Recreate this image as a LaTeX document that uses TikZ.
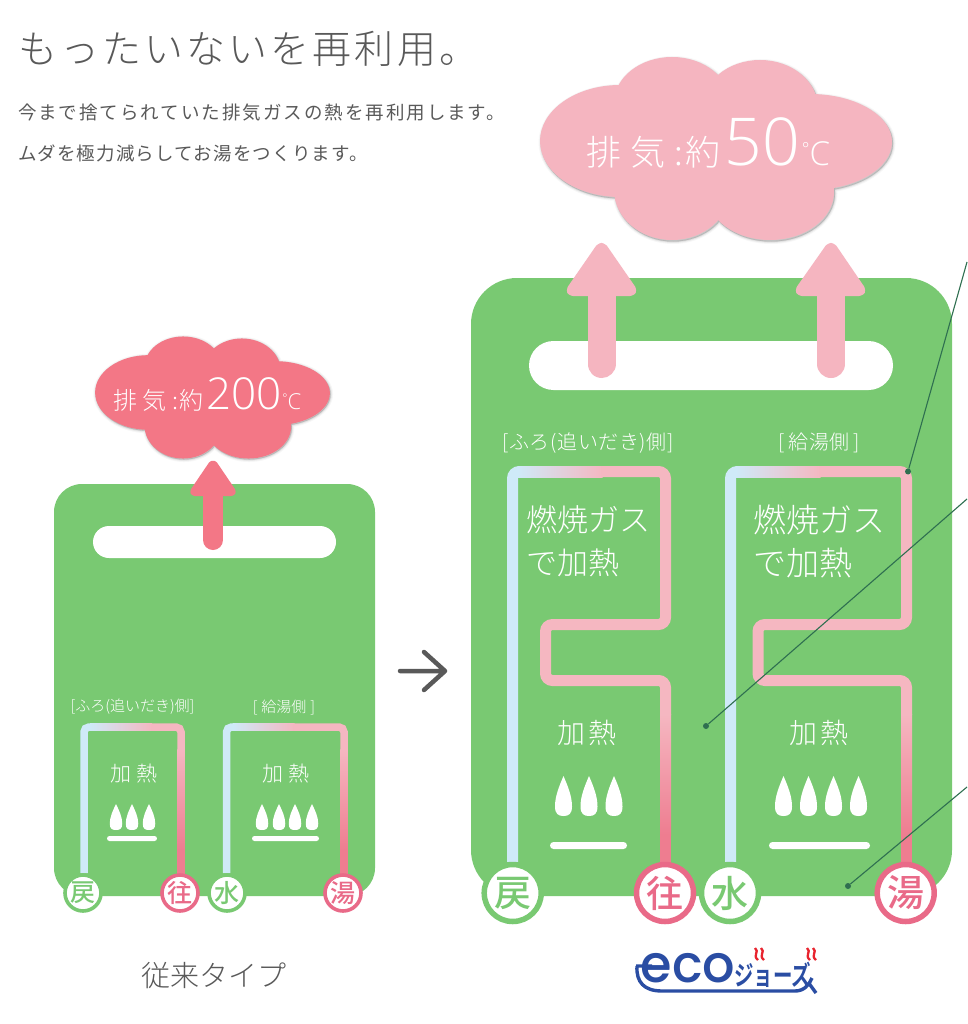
\documentclass[tikz,border=0pt]{standalone}
\usepackage{fontspec}
\setmainfont{Noto Sans CJK JP Light}
\newfontfamily\numf{Open Sans Light}
\newfontfamily\logof{Poppins Medium}
\newfontfamily\boldjp{Noto Sans CJK JP Bold}
\newfontfamily\medjp{Noto Sans CJK JP Medium}
\newfontfamily\regjp{Noto Sans CJK JP}
\newcommand{\fs}[1]{\fontsize{#1}{#1}\selectfont}
\definecolor{panel}{HTML}{79C972}
\definecolor{pblue}{HTML}{CFEAF8}
\definecolor{ppink}{HTML}{F5B7C1}
\definecolor{pred}{HTML}{EE7D90}
\definecolor{ringred}{HTML}{E96A88}
\definecolor{cloudb}{HTML}{F5B5C0}
\definecolor{cloudr}{HTML}{F37786}
\definecolor{ink}{HTML}{595959}
\definecolor{leader}{HTML}{2F6F50}
\definecolor{logob}{HTML}{2A4DA3}
\definecolor{logor}{HTML}{E8232E}
\newcommand{\cloudshape}{%
 (-96,-7.5) ellipse [x radius=80,y radius=56]
 (-44,-45.5) ellipse [x radius=58,y radius=46]
 (44,-40.5) ellipse [x radius=58,y radius=48]
 (94,-6.5) ellipse [x radius=82,y radius=48]
 (-44,41.5) ellipse [x radius=58,y radius=50]
 (54,43.5) ellipse [x radius=64,y radius=48]
 (0,0) ellipse [x radius=110,y radius=60]}
\newcommand{\cloudat}[4]{%
 \begin{scope}[shift={(#1,#2)},scale=#3]
 \begin{scope}[shift={(1,1.5)}]
 \path[fill=black,draw=black,line width=5,opacity=.03] \cloudshape;
 \path[fill=black,draw=black,line width=3,opacity=.05] \cloudshape;
 \path[fill=black,draw=black,line width=1.2,opacity=.08] \cloudshape;
 \end{scope}
 \fill[#4] \cloudshape;
 \end{scope}}
\newcommand{\bigpipe}[3]{%
 \draw[pipeb,pblue] (#1,862)--(#1,471.5)--(#1+12,471.5);
 \shade[left color=pblue,right color=ppink] (#1+5,466) rectangle (#1+90,477);
 \draw[pipeb,ppink] (#1+89,471.5)--(#2,471.5)--(#2,624.5)--(#3,624.5)--(#3,680.5)--(#2,680.5)--(#2,715);
 \shade[top color=ppink,bottom color=pred] (#2-5.5,714) rectangle (#2+5.5,835);
 \fill[pred] (#2-5.5,834) rectangle (#2+5.5,866);}
\newcommand{\smallpipe}[2]{%
 \draw[pipes,pblue] (#1,873)--(#1,727)--(#1+10,727);
 \shade[left color=pblue,right color=ppink] (#1+6,723.25) rectangle (#1+68,730.75);
 \draw[pipes,ppink] (#1+67,727)--(#2,727)--(#2,750);
 \shade[top color=ppink,bottom color=pred] (#2-3.75,749) rectangle (#2+3.75,850);
 \fill[pred] (#2-3.75,849) rectangle (#2+3.75,875);}
\tikzset{
 pipeb/.style={line width=11,rounded corners=7},
 pipes/.style={line width=7.5,rounded corners=5},
 txt/.style={inner sep=0,outer sep=0,text=white},
 inktxt/.style={inner sep=0,outer sep=0,text=ink,anchor=west},
 ringg/.style={circle,draw=panel,fill=white,text=panel},
 ringr/.style={circle,draw=ringred,fill=white,text=ringred},
 bigring/.style={line width=5.5,minimum size=57,inner sep=0,font=\medjp\fs{37}},
 smallring/.style={line width=3.6,minimum size=36,inner sep=0,font=\medjp\fs{25}},
 leaderline/.style={draw=leader,line width=1.1},
 leaderdot/.style={circle,fill=leader,minimum size=6,inner sep=0},
 flame/.pic={\fill[white] (0,0) .. controls (.25,.25) and (.5,.5) .. (.5,.76) .. controls (.5,.95) and (.3,1) .. (0,1) .. controls (-.3,1) and (-.5,.95) .. (-.5,.76) .. controls (-.5,.5) and (-.25,.25) .. (0,0) -- cycle;}
}
\begin{document}
\begin{tikzpicture}[x=1pt,y=-1pt]
\useasboundingbox (0,0) rectangle (967,1024);
\fill[white] (0,0) rectangle (967,1024);
% heading
\node[inktxt,font=\fs{39}\addfontfeature{LetterSpace=8}] (title) at (18,49) {もったいないを再利用。};
\node[inktxt,font=\regjp\fs{18.5}\addfontfeature{LetterSpace=10.7}] (sub1) at (18,113) {今まで捨てられていた排気ガスの熱を再利用します。};
\node[inktxt,font=\regjp\fs{18.5}\addfontfeature{LetterSpace=6.3}] (sub2) at (18,153) {ムダを極力減らしてお湯をつくります。};
% panels
\fill[panel,rounded corners=28] (54,484) rectangle (375,896);
\fill[panel,rounded corners=46] (471,278) rectangle (952,896);
\fill[white,rounded corners=16] (93,526) rectangle (336,558);
\fill[white,rounded corners=24.5] (529,341) rectangle (893,390);
% exhaust arrows
\draw[cloudr,line width=20,line cap=round] (213,490)--(213,540);
\filldraw[cloudr,line width=6,line join=round,rounded corners=3] (213,462)--(234,493)--(192,493)--cycle;
\draw[cloudb,line width=28,line cap=round] (601.5,285)--(601.5,364);
\filldraw[cloudb,line width=8,line join=round,rounded corners=4] (601.5,245)--(634,292)--(569,292)--cycle;
\draw[cloudb,line width=28,line cap=round] (831,285)--(831,364);
\filldraw[cloudb,line width=8,line join=round,rounded corners=4] (831,245)--(863,292)--(798,292)--cycle;
% clouds
\cloudat{212.5}{397.5}{.667}{cloudr}
\cloudat{716}{148.5}{1}{cloudb}
\node[txt,anchor=base west] (exh1) at (113,409) {\fs{24}\addfontfeature{LetterSpace=2}排 気 :約\hspace{3pt}\numf\fs{44}200\hspace{1pt}\fs{12}\raisebox{7pt}{°}\fs{22}C};
\node[txt,anchor=base west] (exh2) at (586,166) {\fs{35}\addfontfeature{LetterSpace=5}排 気 :約\hspace{4pt}\numf\fs{66}50\hspace{2pt}\fs{18}\raisebox{10pt}{°}\fs{33}C};
% pipes
\smallpipe{84}{181}
\smallpipe{226.5}{344}
\bigpipe{512.5}{665.5}{545.5}
\bigpipe{730.5}{906.5}{758}
% burners
\foreach \x in {116,132,149,262,279,295,312}{\pic[xscale=12.5,yscale=26] at (\x,804) {flame};}
\foreach \x in {563.5,589,614,783.5,808.5,833.5,858.5}{\pic[xscale=17,yscale=40] at (\x,776) {flame};}
\fill[white,rounded corners=2.5] (107,836) rectangle (157,841);
\fill[white,rounded corners=2.5] (252,836) rectangle (319,841);
\fill[white,rounded corners=3.5] (550,842) rectangle (627,849);
\fill[white,rounded corners=3.5] (769,842) rectangle (870,849);
% labels in small panel
\node[txt,font=\fs{15}] (s1) at (132.5,707) {[ふろ(追いだき)側]};
\node[txt,font=\fs{15}] (s2) at (284,707) {[\hspace{4pt}給湯側\hspace{4pt}]};
\node[txt,font=\fs{21}] (s3) at (134,774) {加 熱};
\node[txt,font=\fs{21}] (s4) at (286,774) {加 熱};
% labels in large panel
\node[txt,font=\fs{20}\addfontfeature{LetterSpace=3}] (b1) at (588,443) {[ふろ(追いだき)側]};
\node[txt,font=\fs{20}\addfontfeature{LetterSpace=3}] (b2) at (819,443) {[\hspace{4pt}給湯側\hspace{4pt}]};
\node[txt,font=\fs{31},anchor=west] (b3) at (526,520) {燃焼ガス};
\node[txt,font=\fs{31},anchor=west] (b4) at (526,563) {で加熱};
\node[txt,font=\fs{33},anchor=west] (b5) at (753,520) {燃焼ガス};
\node[txt,font=\fs{33},anchor=west] (b6) at (753,563) {で加熱};
\node[txt,font=\fs{28}\addfontfeature{LetterSpace=8}] (b7) at (587,733) {加熱};
\node[txt,font=\fs{28}\addfontfeature{LetterSpace=8}] (b8) at (819,733) {加熱};
% port circles
\node[ringg,smallring] (p1) at (83,893) {戻};
\node[ringr,smallring] (p2) at (180,893) {往};
\node[ringg,smallring] (p3) at (227,893) {水};
\node[ringr,smallring] (p4) at (343,893) {湯};
\node[ringg,bigring] (q1) at (512.7,893) {戻};
\node[ringr,bigring] (q2) at (665,893) {往};
\node[ringg,bigring] (q3) at (730,893) {水};
\node[ringr,bigring] (q4) at (905.7,893) {湯};
% leaders
\node[leaderdot] (d1) at (908,471.5) {};
\node[leaderdot] (d2) at (706,726) {};
\node[leaderdot] (d3) at (848,886) {};
\coordinate (e1) at (967,262);
\coordinate (e2) at (967,499);
\coordinate (e3) at (967,787);
\draw[leaderline] (d1)--(e1);
\draw[leaderline] (d2)--(e2);
\draw[leaderline] (d3)--(e3);
% centre arrow
\draw[ink,line width=4.5,line cap=round,line join=round] (400,671)--(445,671) (424,652)--(445,671)--(424,690);
% captions
\node[inktxt,font=\fs{29}] (cap) at (141,976) {従来タイプ};
% logo
\node[inner sep=0,text=logob,font=\logof\fs{52},xscale=.98,anchor=base] (eco) at (688,982) {eco};
\node[inner sep=0,text=logob,font=\boldjp\fs{27},xscale=.72,anchor=base west] (jose) at (734,985) {ジョーズ};
\draw[logob,line width=3.4,line join=round] (636,966)--(652,966) (637,966) .. controls (636,982) and (644,991) .. (662,991) -- (795,991) .. controls (804,991) and (809,985) .. (812,978) (808,982)--(816,993);
\draw[logor,line width=2.3] (755,948) .. controls (760,952) and (752,955) .. (758,960) (761,948) .. controls (766,952) and (758,955) .. (764,960);
\draw[logor,line width=2.3] (807,948) .. controls (812,952) and (804,955) .. (810,960) (813,948) .. controls (818,952) and (810,955) .. (816,960);
\end{tikzpicture}
\end{document}
